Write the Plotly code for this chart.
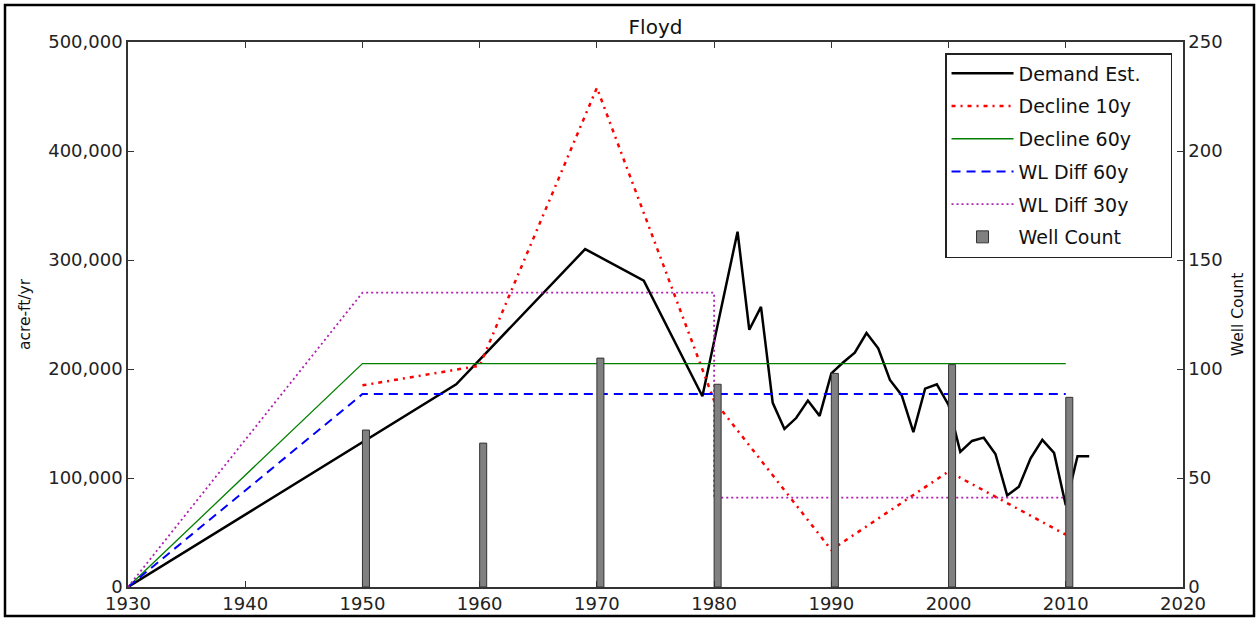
import plotly.graph_objects as go

# ---- data ----
demand_years = [1930, 1958, 1969, 1974, 1979, 1982, 1983, 1984, 1985, 1986, 1987, 1988, 1989,
                1990, 1991, 1992, 1993, 1994, 1995, 1996, 1997, 1998, 1999, 2000, 2001, 2002,
                2003, 2004, 2005, 2006, 2007, 2008, 2009, 2010, 2011, 2012]
demand_vals = [0, 186000, 310000, 281000, 175000, 326000, 236000, 257000, 169000, 145000, 155000,
               171000, 157000, 196000, 206000, 215000, 233000, 219000, 190000, 176000, 142000,
               182000, 186000, 167000, 124000, 134000, 137000, 122000, 84000, 92000, 118000,
               135000, 123000, 75000, 120000, 120000]

decline10_years = [1950, 1960, 1970, 1980, 1990, 2000, 2010]
decline10_vals = [185000, 203000, 458000, 171000, 34000, 106000, 48000]

decline60_years = [1930, 1950, 2010]
decline60_vals = [0, 205000, 205000]

wl60_years = [1930, 1950, 2010]
wl60_vals = [0, 177000, 177000]

wl30_years = [1930, 1950, 1980, 1980, 2010]
wl30_vals = [0, 270000, 270000, 82000, 82000]

well_years = [1950, 1960, 1970, 1980, 1990, 2000, 2010]
well_counts = [72, 66, 105, 93, 98, 102, 87]

x_ticks = [1930, 1940, 1950, 1960, 1970, 1980, 1990, 2000, 2010, 2020]
y_ticks = [0, 100000, 200000, 300000, 400000, 500000]
y2_ticks = [0, 50, 100, 150, 200, 250]

FONT = "DejaVu Sans"
PAD = "\u00a0" * 4

fig = go.Figure()
fig.add_trace(go.Scatter(x=demand_years, y=demand_vals, mode="lines", name="Demand Est." + PAD,
                         legendgroup="a", line=dict(color="black", width=2.5)))
fig.add_trace(go.Scatter(x=decline10_years, y=decline10_vals, mode="lines", name="Decline 10y",
                         legendgroup="b", line=dict(color="#ff0000", width=2.5, dash="4px,5px,2px,5px")))
fig.add_trace(go.Scatter(x=decline60_years, y=decline60_vals, mode="lines", name="Decline 60y",
                         legendgroup="c", line=dict(color="#008000", width=1.3)))
fig.add_trace(go.Scatter(x=wl60_years, y=wl60_vals, mode="lines", name="WL Diff 60y",
                         legendgroup="d", line=dict(color="#0000ff", width=2, dash="9px,6px")))
fig.add_trace(go.Scatter(x=wl30_years, y=wl30_vals, mode="lines", name="WL Diff 30y",
                         legendgroup="e", line=dict(color="#b020b0", width=1.8, dash="2px,3px")))
fig.add_trace(go.Bar(x=well_years, y=well_counts, name="Well Count", yaxis="y2",
                     legendgroup="f", width=0.6, offset=0,
                     marker=dict(color="#808080", line=dict(color="#333333", width=1))))

axis_common = dict(showgrid=False, zeroline=False, showline=True, linecolor="#333333",
                   linewidth=1.5, ticks="inside", ticklen=6, tickwidth=1, tickcolor="#333333",
                   automargin=False,
                   tickfont=dict(family=FONT, size=18, color="#222222"))

fig.update_layout(
    width=1257, height=619, autosize=False,
    margin=dict(l=128, r=74, t=42, b=32, autoexpand=False),
    paper_bgcolor="white", plot_bgcolor="white",
    title=dict(text="Floyd", x=0.5, xref="paper", y=1 - 27 / 619, yref="container",
               xanchor="center", yanchor="middle", font=dict(family=FONT, size=20, color="#111111")),
    xaxis=dict(range=[1930, 2020], tickvals=x_ticks, mirror="ticks", **axis_common),
    yaxis=dict(range=[0, 500000], tickvals=y_ticks, tickformat=",",
               title=dict(text="acre-ft/yr", font=dict(family=FONT, size=15.5, color="#111111"), standoff=14),
               **axis_common),
    yaxis2=dict(range=[0, 250], tickvals=y2_ticks, overlaying="y", side="right",
                title=dict(text="Well Count", font=dict(family=FONT, size=15.5, color="#111111"), standoff=10),
                **axis_common),
    legend=dict(x=0.9896, y=0.9798, xanchor="right", yanchor="top", bgcolor="white",
                bordercolor="#222222", borderwidth=1.5, traceorder="grouped", tracegroupgap=5,
                font=dict(family=FONT, size=19, color="#111111"), itemwidth=62),
    showlegend=True,
    shapes=[dict(type="rect", xref="paper", yref="paper",
                 x0=(5 - 128) / 1055, x1=(1254 - 128) / 1055,
                 y0=(587 - 616) / 545, y1=(587 - 5) / 545,
                 line=dict(color="black", width=2.5), fillcolor="rgba(0,0,0,0)", layer="above")],
)

fig.write_html("out.html", config={"displayModeBar": False},
               post_script="document.body.style.margin='0';document.body.style.padding='0';"
                           "document.body.style.overflow='hidden';")
